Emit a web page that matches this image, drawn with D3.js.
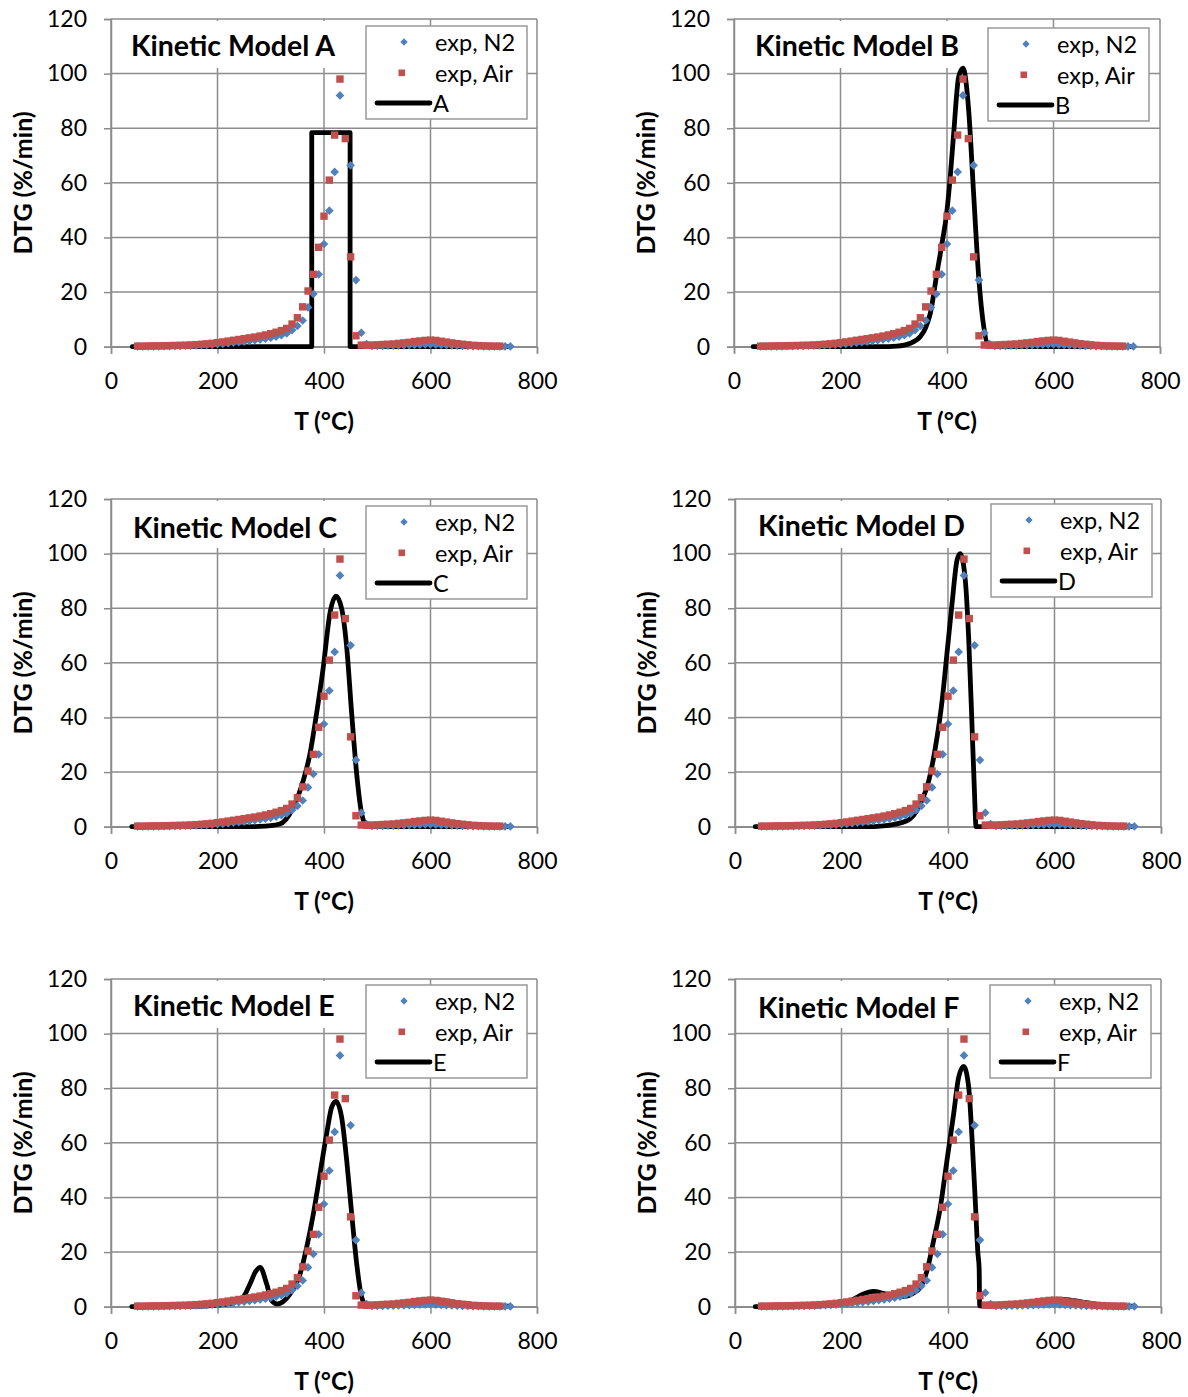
<!DOCTYPE html>
<html>
<head>
<meta charset="utf-8">
<script src="https://cdn.jsdelivr.net/npm/d3@7"></script>
<style>
html,body{margin:0;padding:0;background:#fff;}
svg{display:block;}
text{font-family:Lato,"Open Sans",sans-serif;fill:#000;}
</style>
</head>
<body>
<svg id="chart" width="1188" height="1397"></svg>
<script>
// ---------- data ----------
const xTicks = [0, 200, 400, 600, 800];
const yTicks = [0, 20, 40, 60, 80, 100, 120];
const seriesNames = ["exp, N2", "exp, Air"];
const modelNames = ["A", "B", "C", "D", "E", "F"];

// experimental DTG, N2 atmosphere [T (°C), DTG (%/min)]
const expN2 = [
 [50,0.1],[60,0.1],[70,0.1],[80,0.15],[90,0.15],[100,0.2],[110,0.2],[120,0.25],[130,0.3],[140,0.35],
 [150,0.4],[160,0.45],[170,0.55],[180,0.65],[190,0.75],[200,0.9],[210,1.05],[220,1.25],[230,1.45],[240,1.65],
 [250,1.85],[260,2.1],[270,2.35],[280,2.65],[290,2.95],[300,3.3],[310,3.7],[320,4.2],[330,4.9],[340,6.1],
 [350,7.6],[360,9.6],[370,14.4],[380,19.3],[390,26.5],[400,37.6],[410,49.8],[420,64],[430,92],
 [450,66.4],[460,24.4],[470,5.1],[480,1.0],[490,0.3],[500,0.3],[510,0.3],[520,0.35],[530,0.4],[540,0.45],
 [550,0.5],[560,0.6],[570,0.7],[580,0.75],[590,0.8],[600,0.8],[610,0.75],[620,0.65],[630,0.55],[640,0.45],
 [650,0.35],[660,0.3],[670,0.25],[680,0.2],[690,0.2],[700,0.15],[710,0.15],[720,0.1],[730,0.1],[740,0.1],[750,0.1]
];
// experimental DTG, Air atmosphere
const expAir = [
 [50,0.2],[60,0.2],[70,0.25],[80,0.3],[90,0.3],[100,0.35],[110,0.4],[120,0.45],[130,0.5],[140,0.55],
 [150,0.65],[160,0.75],[170,0.9],[180,1.05],[190,1.25],[200,1.5],[210,1.75],[220,2.05],[230,2.35],[240,2.65],
 [250,2.95],[260,3.25],[270,3.55],[280,3.9],[290,4.3],[300,4.75],[310,5.3],[320,5.9],[330,6.7],[340,8.3],
 [350,10.6],[360,14.6],[370,20.4],[380,26.5],[390,36.4],[400,47.8],[410,61],[420,77.5],[430,98],[440,76.2],
 [450,32.9],[460,4.0],[470,0.6],[480,0.5],[490,0.6],[500,0.7],[510,0.8],[520,0.9],[530,1.0],[540,1.2],
 [550,1.4],[560,1.6],[570,1.9],[580,2.1],[590,2.3],[600,2.4],[610,2.3],[620,2.0],[630,1.7],[640,1.4],
 [650,1.1],[660,0.9],[670,0.7],[680,0.5],[690,0.4],[700,0.3],[710,0.25],[720,0.2],[730,0.2]
];

// kinetic model curves
const modelA = [[40,0],[377,0],[377,78.4],[449,78.4],[449,0],[750,0]];
const modelB = [[36,0],[250,0],[290,0.05],[306,0.2],[330,1.2],[350,3.7],[360,7],[368.6,12.2],[381,26.8],[390.6,37.8],
 [400,50],[406,62],[412.5,78],[421.9,98.8],[430,102],[440.7,86.6],[450,56],[459.5,25.6],[469,7.3],[478,0.4],[490,0],[750,0]];
const modelC = [[39,0],[250,0],[280,0.1],[317,1],[342,7],[361,16.9],[373.7,26.7],[386,41.4],[398.7,58.5],[411,78],
 [422.5,84.4],[433,80],[442.6,65.8],[452,41.4],[461.4,19.3],[470.8,4.7],[480,0.5],[495,0],[750,0]];
const modelD = [[38,0],[250,0],[273,0.2],[323,2.2],[348,8.3],[364,16.9],[376.3,29],[389,46.2],[398,63.3],[407.6,81.7],
 [417,97.6],[423,100],[432.5,90.2],[439,68.2],[445,37.6],[449.6,13.2],[452.7,0],[750,0]];
const modelE = [[39,0],[150,0.1],[200,0.6],[230,1.5],[248,3.4],[261,8.3],[272,13],[280,14.4],[292.4,8.3],[301.8,2.2],
 [312,1],[336,4.6],[355,12],[367.5,21.8],[380,34],[392.5,48.7],[405,63.4],[414.5,73.1],[422.5,75.2],[433,69.5],
 [442.6,53.6],[452,34],[461.4,15.7],[470.8,3.4],[480,0.4],[500,0.5],[550,1.5],[600,2.8],[650,1.5],[700,0.5],[750,0.2]];
const modelF = [[38,0],[100,0.1],[150,0.3],[200,1.0],[220,2.5],[240,4.6],[260,5.6],[280,4.8],[300,3.8],[320,3.8],
 [335,5],[348,7],[360.6,13.2],[373,24.2],[385.6,36.4],[398,53.5],[410.6,70.6],[420,84],[429.4,88],[438.8,80.5],
 [445,62.1],[451.5,37.6],[456,20],[458.5,14],[459.5,0.3],[480,0.2],[500,0.5],[550,1.5],[610,2.8],[660,1.5],[700,0.5],[750,0.2]];
const models = [modelA, modelB, modelC, modelD, modelE, modelF];

// ---------- layout ----------
const panels = [
  {x0:111, y0:19,  tx:131, ty:45,   lx:366, ly:26},
  {x0:734, y0:19,  tx:755, ty:45,   lx:988, ly:28},
  {x0:111, y0:499, tx:133, ty:527,  lx:366, ly:506},
  {x0:735, y0:499, tx:758, ty:525,  lx:991, ly:504},
  {x0:111, y0:979, tx:133, ty:1005, lx:366, ly:985},
  {x0:735, y0:979, tx:758, ty:1007, lx:990, ly:985}
];
const W = 426, H = 327.7;
const gridColor = "#8c8c8c";
const blue = "#4F81BD", red = "#C0504D";

const svg = d3.select("#chart");

panels.forEach((p, i) => {
  const x = d3.scaleLinear().domain([0, 800]).range([p.x0, p.x0 + W]);
  const y = d3.scaleLinear().domain([0, 120]).range([p.y0 + H, p.y0]);
  const g = svg.append("g");

  // gridlines
  g.append("g").selectAll("line").data(yTicks).join("line")
    .attr("x1", p.x0).attr("x2", p.x0 + W)
    .attr("y1", d => y(d)).attr("y2", d => y(d))
    .attr("stroke", gridColor).attr("stroke-width", 1.5);
  g.append("g").selectAll("line").data(xTicks).join("line")
    .attr("x1", d => x(d)).attr("x2", d => x(d))
    .attr("y1", p.y0).attr("y2", p.y0 + H)
    .attr("stroke", gridColor).attr("stroke-width", 1.5);

  // axes
  const xAxis = d3.axisBottom(x).tickValues(xTicks).tickSize(7).tickPadding(19);
  const yAxis = d3.axisLeft(y).tickValues(yTicks).tickSize(7).tickPadding(17);
  const gx = g.append("g").attr("transform", `translate(0,${p.y0 + H})`).call(xAxis);
  const gy = g.append("g").attr("transform", `translate(${p.x0},0)`).call(yAxis);
  [gx, gy].forEach(a => {
    a.select(".domain").attr("stroke", gridColor).attr("stroke-width", 1.5);
    a.selectAll(".tick line").attr("stroke", gridColor).attr("stroke-width", 1.5);
    a.selectAll(".tick text").style("font-size", "23px").attr("fill", "#000");
  });

  // title background
  g.append("rect").attr("x", p.x0 + 2).attr("y", p.y0 + 2)
    .attr("width", p.lx - p.x0 - 3).attr("height", 47).attr("fill", "#fff");

  // axis titles
  g.append("text").attr("x", p.x0 + W / 2).attr("y", p.y0 + H + 74)
    .attr("text-anchor", "middle").attr("dominant-baseline", "central")
    .style("font-size", "24.5px").style("font-weight", "bold").text("T (°C)");
  g.append("text")
    .attr("transform", `translate(${p.x0 - 89},${p.y0 + H / 2}) rotate(-90)`)
    .attr("text-anchor", "middle").attr("dominant-baseline", "central")
    .style("font-size", "25px").style("font-weight", "bold").text("DTG (%/min)");

  // model line
  const line = d3.line().x(d => x(d[0])).y(d => y(d[1]))
    .curve(i === 0 ? d3.curveLinear : d3.curveMonotoneX);
  g.append("path").datum(models[i]).attr("d", line)
    .attr("fill", "none").attr("stroke", "#000").attr("stroke-width", 4.8)
    .attr("stroke-linejoin", "round").attr("stroke-linecap", "round");

  // experimental points
  const diamond = d3.symbol().type(d3.symbolDiamond2).size(48);
  g.append("g").selectAll("path").data(expN2).join("path")
    .attr("transform", d => `translate(${x(d[0])},${y(d[1])})`)
    .attr("d", diamond).attr("fill", blue);
  g.append("g").selectAll("rect").data(expAir).join("rect")
    .attr("x", d => x(d[0]) - 3.7).attr("y", d => y(d[1]) - 3.7)
    .attr("width", 7.4).attr("height", 7.4).attr("fill", red);

  // chart title
  g.append("text").attr("x", p.tx).attr("y", p.ty)
    .attr("dominant-baseline", "central")
    .style("font-size", "28.5px").style("font-weight", "bold")
    .text("Kinetic Model " + modelNames[i]);

  // legend
  const lg = g.append("g").attr("transform", `translate(${p.lx},${p.ly})`);
  lg.append("rect").attr("width", 161).attr("height", 93)
    .attr("fill", "#fff").attr("stroke", "#999").attr("stroke-width", 1.5);
  const dLeg = d3.symbol().type(d3.symbolDiamond2).size(34);
  lg.append("path").attr("transform", "translate(38,16)").attr("d", dLeg).attr("fill", blue);
  lg.append("rect").attr("x", 32.5).attr("y", 43.5).attr("width", 6.6).attr("height", 6.6).attr("fill", red);
  lg.append("line").attr("x1", 11).attr("x2", 64).attr("y1", 77).attr("y2", 77)
    .attr("stroke", "#000").attr("stroke-width", 4.8).attr("stroke-linecap", "round");
  const labels = [seriesNames[0], seriesNames[1], modelNames[i]];
  lg.selectAll("text.l").data(labels).join("text").attr("class", "l")
    .attr("x", (d, k) => k === 2 ? 67 : 69).attr("y", (d, k) => 16 + k * 30.5)
    .attr("dominant-baseline", "central").style("font-size", "23.5px").text(d => d);
});
</script>
</body>
</html>
